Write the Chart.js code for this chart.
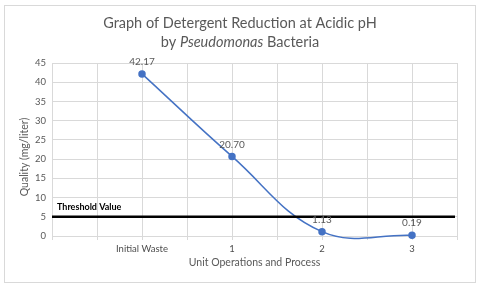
<!DOCTYPE html>
<html>
<head>
<meta charset="utf-8">
<script src="https://cdn.jsdelivr.net/npm/chart.js@4.4.1/dist/chart.umd.min.js"></script>
<style>
  html, body { margin: 0; padding: 0; background: #fff; }
  #wrap { width: 480px; height: 287px; position: relative; }
</style>
</head>
<body>
<div id="wrap"><canvas id="chart" width="480" height="287"></canvas></div>
<script>
const categories = ['Initial Waste', '1', '2', '3'];
const quality = [42.17, 20.70, 1.13, 0.19];
const qualityLabels = ['42.17', '20.70', '1.13', '0.19'];
const thresholdValue = 5;
const thresholdLabel = 'Threshold Value';
const titleLine1 = 'Graph of Detergent Reduction at Acidic pH';
const titleLine2 = ['by ', 'Pseudomonas', ' Bacteria'];
const yTitle = 'Quality (mg/liter)';
const xTitle = 'Unit Operations and Process';

const FONT = 'Lato, "Open Sans", sans-serif';
const GRAY = '#595959';
const BLUE = '#4472C4';

const points = categories.map((c, i) => ({ x: i + 1, y: quality[i] }));

const decorPlugin = {
    id: 'decor',
    beforeDraw(chart) {
        const ctx = chart.ctx;
        ctx.save();
        ctx.fillStyle = '#fff';
        ctx.fillRect(0, 0, chart.width, chart.height);
        ctx.strokeStyle = '#d9d9d9';
        ctx.lineWidth = 1;
        ctx.strokeRect(4.5, 5.5, 471, 277);
        ctx.restore();
    },
    afterDatasetsDraw(chart) {
        const ctx = chart.ctx;
        const area = chart.chartArea;
        const y = chart.scales.y;
        const x = chart.scales.x;
        ctx.save();

        // threshold line
        const ty = y.getPixelForValue(thresholdValue);
        ctx.strokeStyle = '#000';
        ctx.lineWidth = 2.5;
        ctx.beginPath();
        ctx.moveTo(area.left, ty);
        ctx.lineTo(area.right - 2, ty);
        ctx.stroke();
        ctx.fillStyle = '#000';
        ctx.font = 'bold 9px ' + FONT;
        ctx.textAlign = 'left';
        ctx.textBaseline = 'alphabetic';
        ctx.fillText(thresholdLabel, area.left + 5, ty - 7);

        // data labels
        ctx.fillStyle = GRAY;
        ctx.font = '10px ' + FONT;
        ctx.textAlign = 'center';
        ctx.textBaseline = 'middle';
        points.forEach((p, i) => {
            ctx.fillText(qualityLabels[i], x.getPixelForValue(p.x), y.getPixelForValue(p.y) - 12);
        });

        // axis titles
        ctx.font = '10.5px ' + FONT;
        ctx.fillText(xTitle, (area.left + area.right) / 2, 263);
        ctx.save();
        ctx.translate(25, 157);
        ctx.rotate(-Math.PI / 2);
        ctx.fillText(yTitle, 0, 0);
        ctx.restore();

        // title
        ctx.fillStyle = GRAY;
        ctx.textBaseline = 'middle';
        ctx.font = '14.5px ' + FONT;
        ctx.textAlign = 'center';
        ctx.fillText(titleLine1, 240, 23);
        const fonts = ['14.5px ' + FONT, 'italic 14.5px ' + FONT, '14.5px ' + FONT];
        let total = 0;
        titleLine2.forEach((t, i) => { ctx.font = fonts[i]; total += ctx.measureText(t).width; });
        let cx = 240 - total / 2;
        ctx.textAlign = 'left';
        titleLine2.forEach((t, i) => {
            ctx.font = fonts[i];
            ctx.fillText(t, cx, 42);
            cx += ctx.measureText(t).width;
        });
        ctx.restore();
    }
};

new Chart(document.getElementById('chart'), {
    type: 'line',
    data: {
        datasets: [{
            data: points,
            borderColor: BLUE,
            backgroundColor: BLUE,
            borderWidth: 1.5,
            pointRadius: 3,
            pointHoverRadius: 3,
            tension: 0.4,
            fill: false,
            clip: false
        }]
    },
    options: {
        responsive: false,
        animation: false,
        events: [],
        layout: { padding: { top: 63, left: 10, right: 23, bottom: 10 } },
        elements: { line: { capBezierPoints: false } },
        plugins: {
            legend: { display: false },
            tooltip: { enabled: false },
            title: { display: false }
        },
        scales: {
            x: {
                type: 'linear',
                min: 0,
                max: 4.5,
                grid: { color: '#d9d9d9', tickLength: 4, tickColor: '#d9d9d9' },
                border: { color: '#d9d9d9' },
                ticks: {
                    stepSize: 0.5,
                    autoSkip: false,
                    maxRotation: 0,
                    padding: 3,
                    color: '#4d4d4d',
                    font: { family: FONT, size: 9.5 },
                    callback: (v) => {
                        if (Number.isInteger(v) && v >= 1 && v <= categories.length) return categories[v - 1];
                        return '';
                    }
                },
                afterFit: (s) => { s.height = 41; }
            },
            y: {
                min: 0,
                max: 45,
                grid: { color: '#d9d9d9', drawTicks: false },
                border: { display: false },
                ticks: {
                    stepSize: 5,
                    padding: 6,
                    color: GRAY,
                    font: { family: FONT, size: 9.5 }
                },
                afterFit: (s) => { s.width = 42; }
            }
        }
    },
    plugins: [decorPlugin]
});
</script>
</body>
</html>
